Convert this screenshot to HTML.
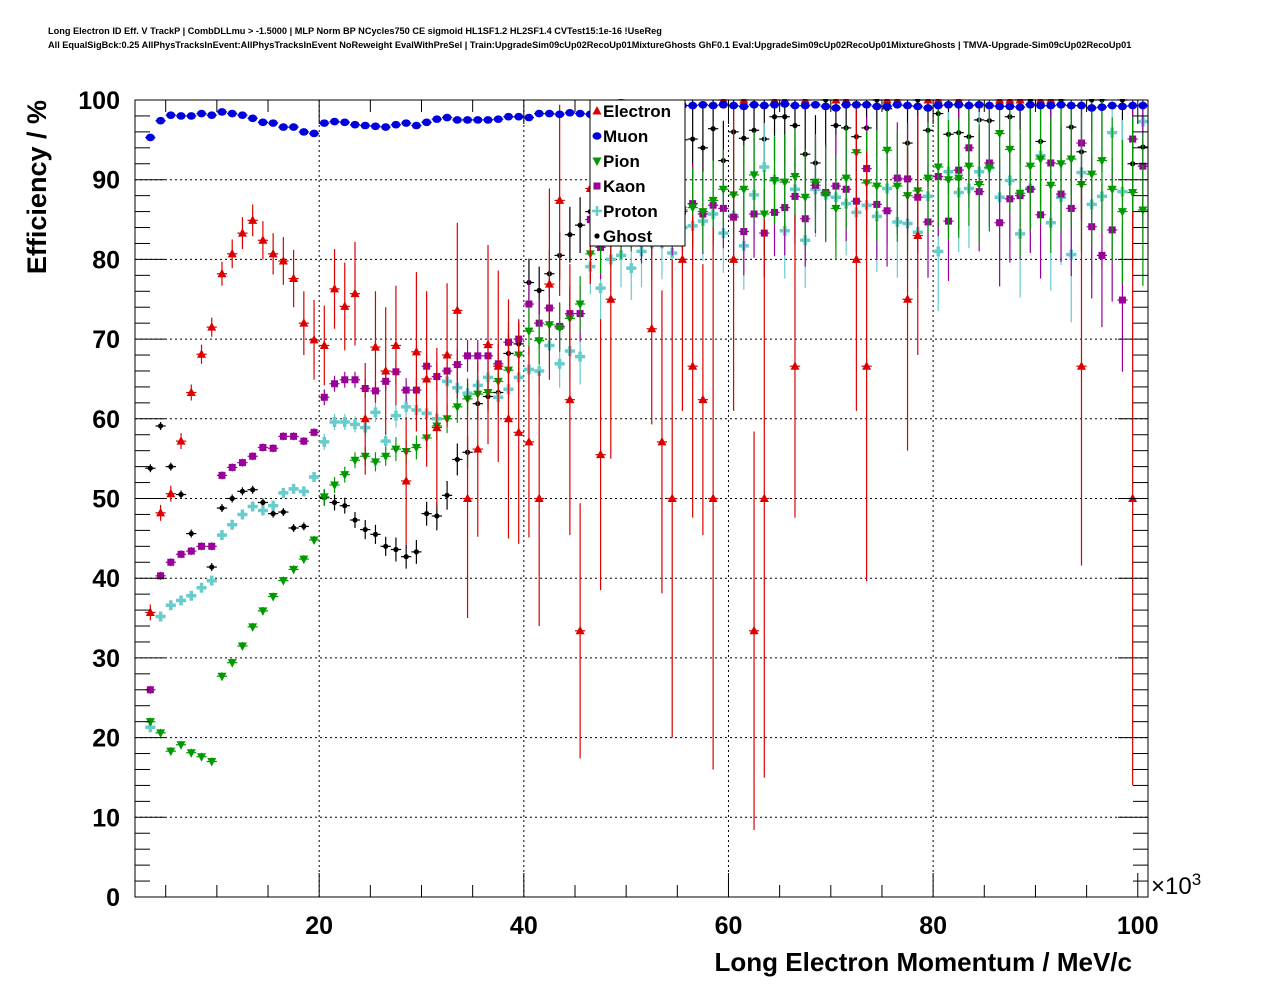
<!DOCTYPE html>
<html><head><meta charset="utf-8"><style>
body{margin:0;background:#fff;}
svg{display:block;font-family:"Liberation Sans",sans-serif;}
</style></head><body>
<svg id="chart" width="1276" height="996" viewBox="0 0 1276 996" xmlns="http://www.w3.org/2000/svg">
<rect width="1276" height="996" fill="#fff"/>
<text x="48" y="34" font-size="9.2" font-weight="bold">Long Electron ID Eff. V TrackP | CombDLLmu &gt; -1.5000 | MLP Norm BP NCycles750 CE sigmoid HL1SF1.2 HL2SF1.4 CVTest15:1e-16 !UseReg</text>
<text x="48" y="48" font-size="9.2" font-weight="bold">All EqualSigBck:0.25 AllPhysTracksInEvent:AllPhysTracksInEvent NoReweight EvalWithPreSel | Train:UpgradeSim09cUp02RecoUp01MixtureGhosts GhF0.1 Eval:UpgradeSim09cUp02RecoUp01MixtureGhosts | TMVA-Upgrade-Sim09cUp02RecoUp01</text>
<defs><clipPath id="pc"><rect x="135" y="99" width="1013" height="799"/></clipPath></defs>
<g id="grid"></g>
<g id="marks" clip-path="url(#pc)"></g>
<rect x="135" y="100" width="1013" height="797" fill="none" stroke="#000" stroke-width="1"/>
<g id="axes"></g>
<text x="1132" y="971" font-size="26" font-weight="bold" text-anchor="end">Long Electron Momentum / MeV/c</text>
<text x="1151" y="894" font-size="24">×10<tspan font-size="17" dy="-9">3</tspan></text>
<text transform="translate(46,100) rotate(-90)" font-size="27" font-weight="bold" text-anchor="end">Efficiency / %</text>
<g id="legend"></g>
</svg>
<script>
const bins = [];
for (let k = 3.5; k <= 100.5; k += 1) bins.push(k);
const yTicks = [0,10,20,30,40,50,60,70,80,90,100];
const xTicks = [20,40,60,80,100];
const muon = [95.3,97.4,98.1,98,98,98.3,98.1,98.5,98.3,98.1,97.7,97.2,97.1,96.6,96.6,96,95.8,
97.1,97.3,97.2,96.9,96.8,96.7,96.6,96.9,97.1,96.8,97.2,97.6,97.8,97.5,97.5,
97.5,97.5,97.6,97.9,97.9,97.8,98.3,98.3,98.2,98.4,98.3,98.2,98.9,
99.1,99.2,99.2,99.3,99.3,99.3,99.2,99.3,99.3,99.4,99.3,99.4,99.3,99.2,99.4,99.3,99.4,99.5,99.3,
99.3,99.4,99.2,99,99.4,99.4,99.4,99.2,99.2,99.4,99.3,99.2,99,99.3,99.4,99.4,99.3,99.4,99.3,99.2,99.2,99.1,99.4,99.3,99.3,99.4,99.3,99.3,99,99.1,99.3,99.2,99.3,99.3];
const electron = [35.7,48.2,50.6,57.2,63.3,68.1,71.5,78.2,80.7,83.3,84.9,82.4,80.7,79.8,77.6,72,69.9,69.2,76.3,74.1,75.7,60,69,66,69.2,52.2,68.4,65,58.9,68,73.6,50,
56.2,69.3,66.6,60,58.3,57.1,50,76.9,87.4,62.4,33.4,88.9,55.5,75,100,null,null,71.3,57.1,50,80,66.6,62.4,50,100,80,100,33.4,50,100,100,66.6,
100,null,null,100,100,80,66.6,null,100,100,75,83,100,100,null,100,null,null,null,100,100,100,null,100,100,null,null,66.6,null,null,null,null,50,null];
const electronErr = [1,1,1,1,1,1.2,1.2,1.5,1.8,2,2,2.4,2.6,3,3.6,4,5,5,5,5.5,6.5,7,7,8,7.5,8,10,11,10,9,11,15,
11,12.5,12,15,14,12,16,12,12,17,16,12,17,20,0,0,0,12,19,30,19,19,17,34,0,19,0,25,35,0,0,19,
0,0,0,0,0,19,27,0,0,0,19,15,0,0,0,0,0,0,0,0,0,0,0,0,0,0,0,25,0,0,0,0,36,0];
const pion = [22,20.6,18.3,19.1,18.1,17.6,17,27.7,29.4,31.5,33.9,35.9,37.7,39.7,41.1,42.4,44.8,50.2,51.7,53,54.8,55.3,54.6,55.3,56.2,55.9,56.4,57.6,59.1,60,61.5,62.5,
63.1,63.3,64.7,66.1,68,71,69.8,71.8,71.4,72.6,74.4,80.7,82.2,83,84,85,85.5,86,86.5,86,86.2,86.5,86,87.4,88.8,88.1,88.8,90.6,85.7,89.9,89.7,90.4,
87.8,89.7,88.2,86.4,90.2,93.4,89.6,89.2,93.7,89.2,88,88.6,90.2,91.6,90,90.2,91.7,89.4,91.5,95.8,93.8,88.3,91.7,92.6,89.3,92,92.6,89.4,90.7,92.4,88.8,86,88.4,86.2];
const kaon = [26,40.3,42,43,43.4,44,44,52.9,53.9,54.5,55.3,56.4,56.3,57.8,57.8,57.2,58.3,62.7,64.4,64.9,64.9,63.8,63.5,64.7,65.9,63.6,63.6,66.6,65.3,66,66.8,67.9,
67.9,67.9,66.9,69.6,70,74.4,72,73.9,71.6,73.2,73.2,85,81.5,84,85,85.5,84,85,86,85,86,87,85.7,86.8,86.4,85.3,83.5,85.7,83.3,85.9,86.5,87.9,
85.1,89.3,88.4,89.2,88.8,87.3,91.4,86.9,86.1,90.2,90.1,87.8,84.7,90.4,84.8,91.2,94,88.5,92.1,84.6,87.6,88,88.8,85.6,92.1,88.2,86.4,94.6,84.1,80.5,83.7,74.9,95.1,91.7];
const proton = [21.3,35.2,36.6,37.2,37.8,38.8,39.7,45.4,46.7,48,49,48.5,49.1,50.7,51.2,50.9,52.7,57.1,59.6,59.6,59.3,58.9,60.8,57.2,60.4,61.5,61.1,60.7,60,64.7,63.9,63.2,
64.2,65.2,62.7,63.7,65.2,66.2,66,69.2,66.9,68.5,67.8,79.1,76.4,80,80.5,78.9,81,82,82,80.8,84,84.2,84.8,85.7,83.3,85.5,81.7,88.1,91.6,90,83.6,88.8,
82.4,88.8,88.1,87.8,87,85.9,86.8,85.4,88.9,84.7,84.5,83.4,87.9,81,91,88.4,88.9,91,91.5,87.8,89.9,83.2,88.9,93,84.6,87.8,80.6,90.9,86.9,87.9,95.9,88.5,null,97.3];
const ghost = [53.8,59.1,54,50.5,45.6,null,41.4,48.8,50,50.9,51.1,49.5,48.1,48.3,46.3,46.5,null,50.1,49.5,49.1,47.3,46.1,45.5,44,43.6,42.7,43.3,48.1,47.8,50.4,54.9,55.8,
61.9,62.8,63.3,68.2,69.4,77.1,76.1,78.2,80.5,83.1,84.3,86,88,90,92,93,94,94,93,95,95,95.1,94,96.4,92.4,96,95.2,96.2,95.1,97.9,97.9,96.8,
93.2,92.1,100,96.8,96.5,95.4,96.5,100,98.9,null,94.6,100,96.2,98.3,95.7,95.9,95.4,97.5,97.4,null,97.9,100,100,94.8,100,100,96.6,93.5,100,100,null,100,92,94.1];
const otherErr = [0.5,0.5,0.5,0.5,0.5,0.5,0.5,0.5,0.5,0.5,0.5,0.5,0.5,0.5,0.5,0.5,0.5,
1,1,1,1,1.2,1.2,1.2,1.5,1.5,1.5,1.5,1.8,1.8,2,2,
2,2,2.5,2.5,2.5,3,3,3,3,3.5,3.5,3.5,
4,4,4,4,4.5,4.5,4.5,4.5,5,5,5,5,5,5,5.5,5.5,5.5,5.5,6,6,
6,6,6,6.5,6.5,6.5,6.5,7,7,7,7,7,7,7.5,7.5,7.5,7.5,7.5,8,8,8,8,8,8,8.5,8.5,8.5,8.5,9,9,9,9,9.5,9.5];

const NS = "http://www.w3.org/2000/svg";
const X0 = 135, X1 = 1148, XMIN = 2, XMAX = 101;
const Y0 = 897, Y1 = 100;
const xs = v => X0 + (v - XMIN) / (XMAX - XMIN) * (X1 - X0);
const ys = v => Y0 - v / 100 * (Y0 - Y1);
function mk(tag, attrs, parent) {
  const e = document.createElementNS(NS, tag);
  for (const k in attrs) e.setAttribute(k, attrs[k]);
  parent.appendChild(e);
  return e;
}
const grid = document.getElementById('grid');
const axes = document.getElementById('axes');
const marks = document.getElementById('marks');

for (const t of yTicks) {
  if (t > 0 && t < 100) {
    const l = mk('line', {x1: X0, x2: X1, y1: ys(t), y2: ys(t), stroke: '#000', 'stroke-width': 1, 'stroke-dasharray': '2,3'}, grid);
    
    
  }
}
for (const t of xTicks) {
  if (t < 100) {
    const l = mk('line', {x1: xs(t), x2: xs(t), y1: Y0, y2: Y1, stroke: '#000', 'stroke-width': 1, 'stroke-dasharray': '2,3'}, grid);
    
    
  }
}
for (let v = 0; v <= 100; v += 2) {
  const major = v % 10 === 0;
  const len = major ? 30 : 15;
  mk('line', {x1: X0, x2: X0 + len, y1: ys(v), y2: ys(v), stroke: '#000'}, axes);
  mk('line', {x1: X1, x2: X1 - len, y1: ys(v), y2: ys(v), stroke: '#000'}, axes);
}
for (const t of yTicks) {
  const tx = mk('text', {x: 120, y: ys(t) + 9, 'font-size': 25, 'font-weight': 'bold', 'text-anchor': 'end'}, axes);
  tx.textContent = t;
  
  
}
for (let v = 5; v <= 100; v += 5) {
  const major = v % 20 === 0;
  const len = major ? 24 : 12;
  mk('line', {x1: xs(v), x2: xs(v), y1: Y0, y2: Y0 - len, stroke: '#000'}, axes);
  mk('line', {x1: xs(v), x2: xs(v), y1: Y1, y2: Y1 + len, stroke: '#000'}, axes);
}
for (const t of xTicks) {
  const tx = mk('text', {x: xs(t), y: 934, 'font-size': 25, 'font-weight': 'bold', 'text-anchor': 'middle'}, axes);
  tx.textContent = t;
  
  
}

function marker(type, cx, cy, color, parent) {
  let e;
  if (type === 'tri') e = mk('polygon', {points: `${cx},${cy-5} ${cx-4.5},${cy+3.5} ${cx+4.5},${cy+3.5}`, fill: color}, parent);
  else if (type === 'tridown') e = mk('polygon', {points: `${cx},${cy+5} ${cx-4.5},${cy-3.5} ${cx+4.5},${cy-3.5}`, fill: color}, parent);
  else if (type === 'circ') e = mk('ellipse', {cx: cx, cy: cy, rx: 4.5, ry: 3.8, fill: color}, parent);
  else if (type === 'sq') e = mk('rect', {x: cx-3.5, y: cy-3.5, width: 7, height: 7, fill: color}, parent);
  else if (type === 'cross') e = mk('path', {d: `M${cx-5},${cy}H${cx+5}M${cx},${cy-5}V${cy+5}`, stroke: color, 'stroke-width': 3.5, fill: 'none'}, parent);
  else e = mk('circle', {cx: cx, cy: cy, r: 2.6, fill: color}, parent);
  return e;
}
function drawSeries(name, vals, errs, color, type) {
  const g = mk('g', {}, marks);
  
  
  vals.forEach((v, i) => {
    if (v === null || v === undefined) return;
    const k = bins[i];
    const cx = xs(k), cy = ys(v);
    mk('line', {x1: xs(k - 0.5), x2: xs(k + 0.5), y1: cy, y2: cy, stroke: color, 'stroke-width': 1.2}, g);
    const er = errs ? errs[i] : 0;
    if (er > 0) mk('line', {x1: cx, x2: cx, y1: ys(Math.min(100, v + er)), y2: ys(Math.max(0, v - er)), stroke: color, 'stroke-width': 1.2}, g);
    const m = marker(type, cx, cy, color, g);
    
    
  });
}
drawSeries('ghost', ghost, otherErr, '#000', 'dot');
drawSeries('proton', proton, otherErr, '#66cccc', 'cross');
drawSeries('kaon', kaon, otherErr, '#990099', 'sq');
drawSeries('pion', pion, otherErr, '#009900', 'tridown');
drawSeries('electron', electron, electronErr, '#dd0000', 'tri');
drawSeries('muon', muon, null, '#0000dd', 'circ');

const leg = document.getElementById('legend');
mk('rect', {x: 590, y: 100, width: 95, height: 146, fill: '#fff', stroke: '#000', 'stroke-width': 1}, leg);
const legNames = ['Electron','Muon','Pion','Kaon','Proton','Ghost'];
const legColors = ['#dd0000','#0000dd','#009900','#990099','#66cccc','#000'];
const legTypes = ['tri','circ','tridown','sq','cross','dot'];
legNames.forEach((n, i) => {
  const y = 111 + i * 25;
  const g = mk('g', {}, leg);
  
  
  const m = marker(legTypes[i], 597, y, legColors[i], g);
  if (legTypes[i] === 'cross') m.setAttribute('stroke-width', 2.5);
  const t = mk('text', {x: 603, y: y + 6, 'font-size': 17, 'font-weight': 'bold'}, g);
  t.textContent = n;
});
</script>
</body></html>
